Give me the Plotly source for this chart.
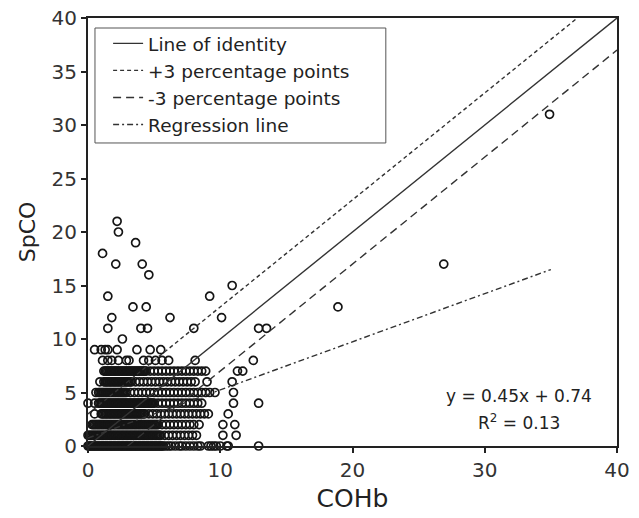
import plotly.graph_objects as go

# ---------------------------------- data ----------------------------------
# COHb values for each SpCO level (SpCO readings are whole numbers)
cohb_at_0 = [0.0, 0.1, 0.2, 0.3, 0.4, 0.5, 0.6, 0.7, 0.8, 0.9, 1.0, 1.1, 1.2, 1.3, 1.4, 1.5, 1.6, 1.7, 1.8, 1.9,
             2.0, 2.1, 2.2, 2.3, 2.4, 2.5, 2.6, 2.7, 2.8, 2.9, 3.0, 3.1, 3.2, 3.3, 3.4, 3.5, 3.6, 3.7, 3.8, 3.9,
             4.0, 4.1, 4.2, 4.3, 4.4, 4.5, 4.6, 4.7, 4.8, 4.9, 5.0, 5.1, 5.2, 5.3, 5.4, 5.5, 5.6, 5.7,
             5.9, 6.1, 6.3, 6.6, 6.9, 7.1, 7.4, 7.7, 8.0, 8.3, 8.5, 9.1, 9.3, 9.5, 9.7, 10.0, 10.5, 10.6, 12.9]
cohb_at_1 = [0.0, 0.1, 0.2, 0.3, 0.4, 0.5, 0.6, 0.7, 0.8, 0.9, 1.0, 1.1, 1.2, 1.3, 1.4, 1.5, 1.6, 1.7, 1.8, 1.9,
             2.0, 2.1, 2.2, 2.3, 2.4, 2.5, 2.6, 2.7, 2.8, 2.9, 3.0, 3.1, 3.2, 3.3, 3.4, 3.5, 3.6, 3.7, 3.8, 3.9,
             4.0, 4.1, 4.2, 4.3, 4.4, 4.5, 4.6, 4.7, 4.8, 4.9, 5.0, 5.1, 5.2, 5.3, 5.4, 5.5,
             5.8, 6.1, 6.4, 6.7, 7.0, 7.3, 7.6, 7.9, 8.2, 10.2, 11.2]
cohb_at_2 = [0.3, 0.4, 0.5, 0.6, 0.7, 0.8, 0.9, 1.0, 1.1, 1.2, 1.3, 1.4, 1.5, 1.6, 1.7, 1.8, 1.9,
             2.0, 2.1, 2.2, 2.3, 2.4, 2.5, 2.6, 2.7, 2.8, 2.9, 3.0, 3.1, 3.2, 3.3, 3.4, 3.5, 3.6, 3.7, 3.8, 3.9,
             4.0, 4.1, 4.2, 4.3, 4.4, 4.5, 4.6, 4.7, 4.8, 4.9, 5.0, 5.1, 5.2, 5.3,
             5.6, 5.9, 6.2, 6.5, 6.8, 7.1, 7.4, 7.7, 8.0, 8.4, 10.2, 11.1]
cohb_at_3 = [0.5, 1.0, 1.1, 1.2, 1.3, 1.4, 1.5, 1.6, 1.7, 1.8, 1.9, 2.0, 2.1, 2.2, 2.3, 2.4, 2.5, 2.6, 2.7,
             2.8, 2.9, 3.0, 3.1, 3.2, 3.3, 3.4, 3.5, 3.6, 3.7, 3.8, 3.9, 4.0, 4.1, 4.2, 4.3,
             4.6, 4.9, 5.2, 5.5, 5.8, 6.1, 6.4, 6.7, 7.0, 7.3, 7.6, 7.9, 8.2, 8.5, 8.8, 9.1, 10.6]
cohb_at_4 = [0.0, 0.5, 0.8, 0.9, 1.0, 1.1, 1.2, 1.3, 1.4, 1.5, 1.6, 1.7, 1.8, 1.9, 2.0, 2.1, 2.2, 2.3, 2.4,
             2.5, 2.6, 2.7, 2.8, 2.9, 3.0, 3.1, 3.2, 3.3, 3.4, 3.5, 3.6, 3.7, 3.8, 3.9, 4.0, 4.1, 4.2, 4.3,
             4.4, 4.5, 4.6, 4.7, 4.8, 4.9, 5.0, 5.3, 5.6, 5.9, 6.2, 6.5, 6.8, 7.1, 7.4, 7.7, 8.0, 8.3, 8.6,
             11.0, 12.9]
cohb_at_5 = [0.6, 0.8, 0.9, 1.0, 1.1, 1.2, 1.3, 1.4, 1.5, 1.6, 1.7, 1.8, 1.9, 2.0, 2.1, 2.2, 2.3, 2.4, 2.5,
             2.6, 2.7, 2.8, 2.9, 3.2, 3.5, 3.8, 4.1, 4.4, 4.7, 5.0, 5.3, 5.6, 5.9, 6.2, 6.5, 6.8, 7.1, 7.4,
             7.7, 8.0, 8.3, 8.6, 8.9, 9.2, 9.6, 11.0]
cohb_at_6 = [0.9, 1.2, 1.3, 1.4, 1.5, 1.6, 1.7, 1.8, 1.9, 2.0, 2.1, 2.2, 2.3, 2.4, 2.5, 2.6, 2.7, 2.8, 2.9,
             3.0, 3.1, 3.2, 3.3, 3.6, 3.9, 4.2, 4.5, 4.8, 5.1, 5.4, 5.7, 6.0, 6.3, 6.6, 6.9, 7.2, 7.5, 7.8,
             8.1, 9.0, 10.9]
cohb_at_7 = [1.2, 1.3, 1.4, 1.5, 1.6, 1.7, 1.8, 1.9, 2.0, 2.1, 2.2, 2.3, 2.4, 2.5, 2.6, 2.7, 2.8, 2.9, 3.0,
             3.1, 3.2, 3.3, 3.4, 3.5, 3.6, 3.7, 3.8, 3.9, 4.0, 4.1, 4.2, 4.3, 4.4,
             4.7, 5.0, 5.3, 5.6, 5.9, 6.2, 6.5, 6.8, 7.1, 7.4, 7.7, 8.0, 8.3, 8.6, 8.9, 11.3, 11.7]
cohb_at_8 = [1.1, 1.5, 1.8, 2.3, 2.9, 3.1, 4.2, 4.6, 5.1, 5.6, 6.1, 8.1, 12.5]
cohb_at_9 = [0.5, 1.0, 1.3, 1.5, 2.2, 3.7, 4.7, 5.5]

# the scattered points above the main cluster
high_cohb = [2.6, 1.5, 4.0, 4.5, 8.0, 12.9, 13.5, 1.8, 6.2, 10.1, 3.4, 4.4, 18.9, 1.5, 9.2,
             10.9, 4.6, 2.1, 4.1, 26.9, 1.1, 3.6, 2.3, 2.2, 34.9]
high_spco = [10, 11, 11, 11, 11, 11, 11, 12, 12, 12, 13, 13, 13, 14, 14,
             15, 16, 17, 17, 17, 18, 19, 20, 21, 31]

# reference lines: name, slope, intercept, x range, dash
line_names = ["Line of identity", "+3 percentage points", "-3 percentage points", "Regression line"]
line_slopes = [1.0, 1.0, 1.0, 0.45]
line_intercepts = [0.0, 3.0, -3.0, 0.74]
line_x_start = [0, 0, 3, 0]
line_x_end = [40, 37, 40, 35]
line_dashes = ["solid", "4px,3px", "8px,5px", "6px,3px,2px,3px"]

# ---------------------------------- build point list ----------------------------------
rows = [cohb_at_0, cohb_at_1, cohb_at_2, cohb_at_3, cohb_at_4,
        cohb_at_5, cohb_at_6, cohb_at_7, cohb_at_8, cohb_at_9]
px, py = [], []
for level, xs in enumerate(rows):
    px += xs
    py += [level] * len(xs)
px += high_cohb
py += high_spco

fig = go.Figure()

fig.add_trace(go.Scatter(
    x=px, y=py, mode="markers", showlegend=False, cliponaxis=False,
    marker=dict(symbol="circle-open", size=8, color="#151515", line=dict(width=1.7, color="#151515")),
))

for name, m, b, x0, x1, d in zip(line_names, line_slopes, line_intercepts, line_x_start, line_x_end, line_dashes):
    fig.add_trace(go.Scatter(
        x=[x0, x1], y=[m * x0 + b, m * x1 + b], mode="lines", name=name,
        line=dict(color="#333", width=1.4, dash=d),
    ))

# regression text, two lines
fig.add_annotation(x=0.815, y=0.117, xref="paper", yref="paper", showarrow=False,
                   xanchor="center", yanchor="middle",
                   text="y = 0.45x + 0.74", font=dict(size=17, color="#222"))
fig.add_annotation(x=0.815, y=0.056, xref="paper", yref="paper", showarrow=False,
                   xanchor="center", yanchor="middle",
                   text="R<sup>2</sup> = 0.13", font=dict(size=17, color="#222"))

# legend frame
fig.add_shape(type="rect", xref="paper", yref="paper", x0=0.0132, x1=0.563, y0=0.708, y1=0.9766,
              line=dict(color="#555", width=1))

axis_style = dict(range=[0, 40], showline=True, linewidth=2, linecolor="#222", mirror=True,
                  ticks="outside", ticklen=5, tickwidth=1.5, tickcolor="#222", automargin=False,
                  ticklabeloverflow="allow",
                  showgrid=False, zeroline=False, tickfont=dict(size=20, color="#333"))

fig.update_xaxes(axis_style, dtick=10, title=dict(text="COHb", font=dict(size=25, color="#222"), standoff=8))
fig.update_yaxes(axis_style, dtick=5, title=dict(text="SpCO", font=dict(size=22, color="#222"), standoff=10))

# page body has an 8px margin, so the figure is 8px smaller each way
fig.update_layout(
    width=631, height=510,
    margin=dict(l=80, r=22, t=10, b=72),
    plot_bgcolor="white", paper_bgcolor="white",
    font=dict(family="DejaVu Sans, sans-serif", color="#222"),
    legend=dict(x=0.038, y=0.984, xanchor="left", yanchor="top",
                borderwidth=0, bgcolor="rgba(0,0,0,0)",
                font=dict(size=18.5, color="#222")),
)

fig.write_html("out.html")
